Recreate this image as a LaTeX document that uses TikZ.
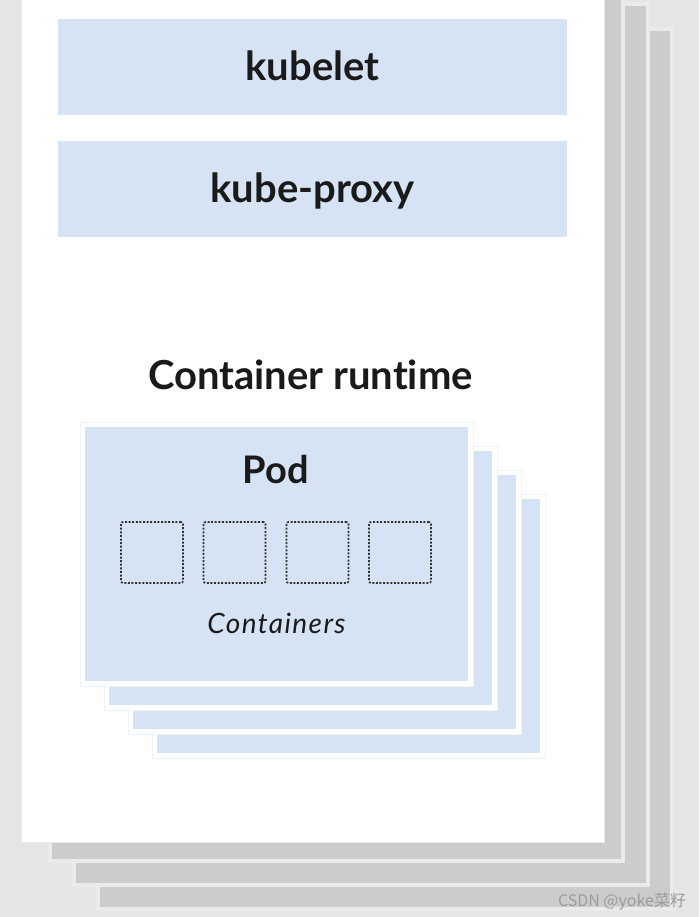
\documentclass[tikz,border=0pt]{standalone}
\usepackage{fontspec}
\setmainfont{Lato}[Ligatures=NoCommon]
\newfontfamily\cjk{Noto Sans CJK SC}
\definecolor{bgc}{HTML}{E5E5E5}
\definecolor{cardgray}{HTML}{CCCCCC}
\definecolor{cardrim}{HTML}{EAEAEA}
\definecolor{paleblue}{HTML}{D6E3F4}
\definecolor{textdark}{HTML}{1A1A1A}
\definecolor{dotgray}{HTML}{333333}
\definecolor{wmgray}{HTML}{9C9C9C}
\definecolor{podrim}{HTML}{EEF3FA}
\tikzset{
  shadowcard/.style={fill=cardgray, draw=cardrim, line width=4pt},
  whitecard/.style={fill=white, draw=cardrim, line width=1pt},
  barbox/.style={fill=paleblue, inner sep=0pt, minimum width=509pt, minimum height=96pt,
    text=textdark, font=\fontsize{40}{40}\selectfont\bfseries, text height=28pt, text depth=0pt},
  podframe/.style={fill=white, draw=podrim, line width=1pt},
  podfill/.style={fill=paleblue},
  ctrbox/.style={draw=dotgray, line width=1.7pt, dash pattern=on 2pt off 1.6pt,
    rounded corners=2pt, minimum width=62pt, minimum height=61pt, inner sep=0pt},
  heading/.style={text=textdark, inner sep=0pt, anchor=base},
}
\begin{document}
\begin{tikzpicture}[x=1pt,y=-1pt]
\useasboundingbox (0,0) rectangle (699,917);
\clip (0,0) rectangle (699,917);
\fill[bgc] (0,0) rectangle (699,917);
% stacked node cards (back to front)
\draw[shadowcard] (98,29) rectangle (672,909);
\draw[shadowcard] (74,4) rectangle (648,885);
\draw[shadowcard] (50,-30) rectangle (623,861);
\draw[whitecard] (21,-30) rectangle (604,842);
% bars
\node[barbox] (kubelet) at (312.5,67) {kubelet};
\node[barbox] (kubeproxy) at (312.5,189) {kube-proxy};
% container runtime
\node[heading, font=\fontsize{40}{40}\selectfont\bfseries] (runtime) at (310.5,389) {Container runtime};
% pods (back to front)
\foreach \k in {3,2,1} {
  \draw[podframe] ({80+24*\k},{422+24*\k}) rectangle ({473+24*\k},{686+24*\k});
  \fill[podfill] ({85+24*\k},{427+24*\k}) rectangle ({468+24*\k},{681+24*\k});
}
\draw[podframe] (80,422) rectangle (473,686);
\node[podfill, inner sep=0pt, minimum width=383pt, minimum height=254pt] (pod) at (276.5,554) {};
\node[heading, font=\fontsize{38}{38}\selectfont\bfseries] (podlabel) at (276,483) {Pod};
\node[ctrbox] (c1) at (152,552.5) {};
\node[ctrbox] (c2) at (234.5,552.5) {};
\node[ctrbox] (c3) at (317.5,552.5) {};
\node[ctrbox] (c4) at (400,552.5) {};
\node[heading, font=\fontsize{28}{28}\selectfont\itshape\addfontfeatures{LetterSpace=5}] (ctrlabel) at (276.5,633) {Containers};
% watermark
\node[inner sep=0pt, anchor=base, text=wmgray, font=\cjk\fontsize{16}{16}\selectfont] (wm) at (622,906) {CSDN @yoke菜籽};
\end{tikzpicture}
\end{document}
